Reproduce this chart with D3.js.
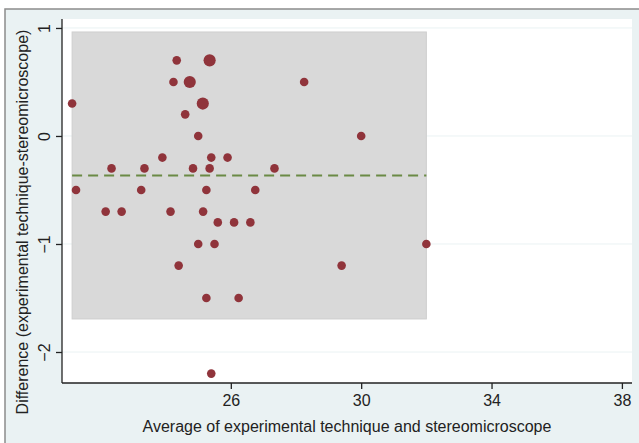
<!DOCTYPE html>
<html>
<head>
<meta charset="utf-8">
<script src="https://cdn.jsdelivr.net/npm/d3@7"></script>
<style>
  html, body { margin: 0; padding: 0; background: #fff; }
  svg { display: block; font-family: "Liberation Sans", Arial, sans-serif; }
</style>
</head>
<body>
<svg id="grafico" width="639" height="443"></svg>
<script>
// media das duas tecnicas (eixo x)
const medias = [21.13, 21.25, 22.16, 22.65, 22.34, 23.25, 23.35, 23.9, 24.15, 24.4,
                24.34, 25.35, 24.24, 24.74, 25.14, 24.6, 25.0, 25.4, 25.9, 24.84,
                25.35, 27.34, 25.25, 26.75, 25.15, 25.6, 26.1, 26.6, 25.0, 25.5,
                25.25, 26.24, 25.4, 28.25, 30.0, 32.0, 29.4];
// diferenca (experimental - estereomicroscopio)
const diferencas = [0.3, -0.5, -0.7, -0.7, -0.3, -0.5, -0.3, -0.2, -0.7, -1.2,
                    0.7, 0.7, 0.5, 0.5, 0.3, 0.2, 0, -0.2, -0.2, -0.3,
                    -0.3, -0.3, -0.5, -0.5, -0.7, -0.8, -0.8, -0.8, -1, -1,
                    -1.5, -1.5, -2.2, 0.5, 0, -1, -1.2];
// quantas observacoes em cada ponto (marcador maior = 2)
const pesos = [1, 1, 1, 1, 1, 1, 1, 1, 1, 1,
               1, 2, 1, 2, 2, 1, 1, 1, 1, 1,
               1, 1, 1, 1, 1, 1, 1, 1, 1, 1,
               1, 1, 1, 1, 1, 1, 1];

const mediaDif = -0.367;
const limiteSuperior = 0.963;
const limiteInferior = -1.694;

const ticksX = [26, 30, 34, 38];
const ticksY = [1, 0, -1, -2];

const svg = d3.select("#grafico");

// fundo externo (estilo s2color)
svg.append("rect")
    .attr("x", 5).attr("y", 9)
    .attr("width", 640).attr("height", 440)
    .attr("fill", "#eaf2f3")
    .attr("stroke", "#8c8c8c")
    .attr("stroke-width", 1.5);

const area = {left: 62, right: 632, top: 19, bottom: 383};

svg.append("rect")
    .attr("x", area.left).attr("y", area.top)
    .attr("width", area.right - area.left).attr("height", area.bottom - area.top)
    .attr("fill", "#ffffff");

const x = d3.scaleLinear().domain([20.82, 38.31]).range([area.left, area.right]);
const y = d3.scaleLinear().domain([-2.287, 1.083]).range([area.bottom, area.top]);

// linhas de grade horizontais
svg.append("g").selectAll("line")
    .data(ticksY)
    .enter().append("line")
        .attr("x1", area.left).attr("x2", area.right)
        .attr("y1", d => y(d)).attr("y2", d => y(d))
        .attr("stroke", "#eaf2f3")
        .attr("stroke-width", 1);

// faixa entre os limites de concordancia
const dadosPontos = medias.map((m, i) => ({x: m, y: diferencas[i], peso: pesos[i]}));
const xMin = d3.min(medias), xMax = d3.max(medias);

svg.append("rect")
    .attr("x", x(xMin)).attr("y", y(limiteSuperior))
    .attr("width", x(xMax) - x(xMin))
    .attr("height", y(limiteInferior) - y(limiteSuperior))
    .attr("fill", "#d9d9d9")
    .attr("stroke", "#cfcfcf")
    .attr("stroke-width", 1);

// linha da media das diferencas
svg.append("line")
    .attr("x1", x(xMin)).attr("x2", x(xMax))
    .attr("y1", y(mediaDif)).attr("y2", y(mediaDif))
    .attr("stroke", "#6a8a45")
    .attr("stroke-width", 2)
    .attr("stroke-dasharray", "10,6");

const raio = d3.scaleSqrt().domain([0, 1]).range([0, 4.3]);

svg.append("g").selectAll("circle")
    .data(dadosPontos)
    .enter().append("circle")
        .attr("cx", d => x(d.x))
        .attr("cy", d => y(d.y))
        .attr("r", d => raio(d.peso))
        .attr("fill", "#90343b");

// eixos
const eixoX = d3.axisBottom(x).tickValues(ticksX).tickSize(6).tickPadding(6).tickFormat(d3.format("d"));
const gX = svg.append("g")
    .attr("transform", `translate(0,${area.bottom})`)
    .call(eixoX);
gX.select(".domain").attr("d", `M${area.left},0H${area.right}`).attr("stroke", "#222").attr("stroke-width", 1.3);
gX.selectAll(".tick line").attr("stroke", "#222").attr("stroke-width", 1.3);
gX.selectAll(".tick text")
    .attr("font-size", 16)
    .attr("fill", "#222")
    .attr("font-family", "Liberation Sans, Arial, sans-serif");

const eixoY = d3.axisLeft(y).tickValues(ticksY).tickSize(6).tickFormat(d3.format("d"));
const gY = svg.append("g")
    .attr("transform", `translate(${area.left},0)`)
    .call(eixoY);
gY.select(".domain").attr("d", `M0,${area.top}V${area.bottom}`).attr("stroke", "#222").attr("stroke-width", 1.3);
gY.selectAll(".tick line").attr("stroke", "#222").attr("stroke-width", 1.3);
gY.selectAll(".tick text")
    .attr("x", null).attr("dy", null)
    .attr("transform", "translate(-12,0) rotate(-90)")
    .attr("text-anchor", "middle")
    .attr("font-size", 16)
    .attr("fill", "#222")
    .attr("font-family", "Liberation Sans, Arial, sans-serif");

// titulos dos eixos
svg.append("text")
    .attr("x", (area.left + area.right) / 2)
    .attr("y", 432)
    .attr("text-anchor", "middle")
    .attr("font-size", 16)
    .attr("fill", "#222")
    .text("Average of experimental technique and stereomicroscope");

svg.append("text")
    .attr("transform", "translate(28,222) rotate(-90)")
    .attr("text-anchor", "middle")
    .attr("font-size", 16)
    .attr("fill", "#222")
    .text("Difference (experimental technique-stereomicroscope)");
</script>
</body>
</html>
